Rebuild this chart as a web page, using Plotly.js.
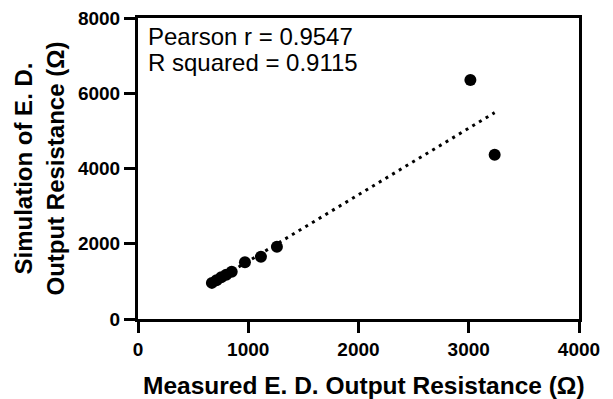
<!DOCTYPE html>
<html>
<head>
<meta charset="utf-8">
<script src="https://cdn.plot.ly/plotly-3.0.1.min.js"></script>
<style>html,body{margin:0;padding:0;background:#fff;}#chart{width:613px;height:399px;}</style>
</head>
<body>
<div id="chart"></div>
<script>
// Measured vs simulated output resistance (Ohm)
var measured = [670, 712, 755, 800, 850, 970, 1115, 1260, 3015, 3235];
var simulated = [960, 1030, 1110, 1175, 1255, 1510, 1655, 1920, 6355, 4365];
var xTicks = [0, 1000, 2000, 3000, 4000];
var yTicks = [0, 2000, 4000, 6000, 8000];
var statLines = ["Pearson r = 0.9547", "R squared = 0.9115"];

// least-squares fit line derived from the data
var n = measured.length, mx = 0, my = 0;
for (var i = 0; i < n; i++) { mx += measured[i]; my += simulated[i]; }
mx /= n; my /= n;
var sxy = 0, sxx = 0;
for (var i = 0; i < n; i++) { sxy += (measured[i]-mx)*(simulated[i]-my); sxx += (measured[i]-mx)*(measured[i]-mx); }
var slope = sxy / sxx, icpt = my - slope*mx;
var xmin = Math.min.apply(null, measured), xmax = Math.max.apply(null, measured);
var fitX = [xmin, xmax], fitY = [icpt + slope*xmin, icpt + slope*xmax];

var fit = {x: fitX, y: fitY, mode: 'lines', type: 'scatter',
  line: {color: '#000', width: 3, dash: '3px,4.8px'}, hoverinfo: 'skip'};
var pts = {x: measured, y: simulated, mode: 'markers', type: 'scatter',
  marker: {color: '#000', size: 12, line: {width: 0}}};

var FONT = 'Liberation Sans, Arial, sans-serif';
var axisCommon = {showline: true, linewidth: 3, linecolor: '#000', mirror: true,
  ticks: 'outside', ticklen: 11, tickwidth: 3, tickcolor: '#000',
  showgrid: false, zeroline: false,
  tickfont: {family: FONT, size: 19, color: '#000', weight: 'bold'}};

var layout = {
  width: 613, height: 399,
  margin: {l: 138, r: 34, t: 18, b: 80},
  paper_bgcolor: '#fff', plot_bgcolor: '#fff',
  showlegend: false,
  xaxis: Object.assign({}, axisCommon, {range: [0, 4000], tickvals: xTicks, ticktext: xTicks.map(String)}),
  yaxis: Object.assign({}, axisCommon, {range: [0, 8000], tickvals: yTicks, ticktext: yTicks.map(String)}),
  annotations: [
    {xref: 'paper', yref: 'paper', x: 0.5125, y: -0.17, xanchor: 'center', yanchor: 'top', showarrow: false,
     text: 'Measured E. D. Output Resistance (Ω)',
     font: {family: FONT, size: 24.5, color: '#000', weight: 'bold'}},
    {xref: 'paper', yref: 'paper', x: -0.2245, y: 0.5, xanchor: 'center', yanchor: 'middle', showarrow: false,
     textangle: -90, text: 'Simulation of E. D.<br>Output Resistance (Ω)',
     font: {family: FONT, size: 24, color: '#000', weight: 'bold'}},
    {xref: 'paper', yref: 'paper', x: 0.018, y: 0.99, xanchor: 'left', yanchor: 'top', showarrow: false,
     text: statLines[0], font: {family: FONT, size: 24, color: '#000'}},
    {xref: 'paper', yref: 'paper', x: 0.018, y: 0.905, xanchor: 'left', yanchor: 'top', showarrow: false,
     text: statLines[1], font: {family: FONT, size: 24, color: '#000'}}
  ]
};
Plotly.newPlot('chart', [fit, pts], layout, {displayModeBar: false, staticPlot: true});
</script>
</body>
</html>
